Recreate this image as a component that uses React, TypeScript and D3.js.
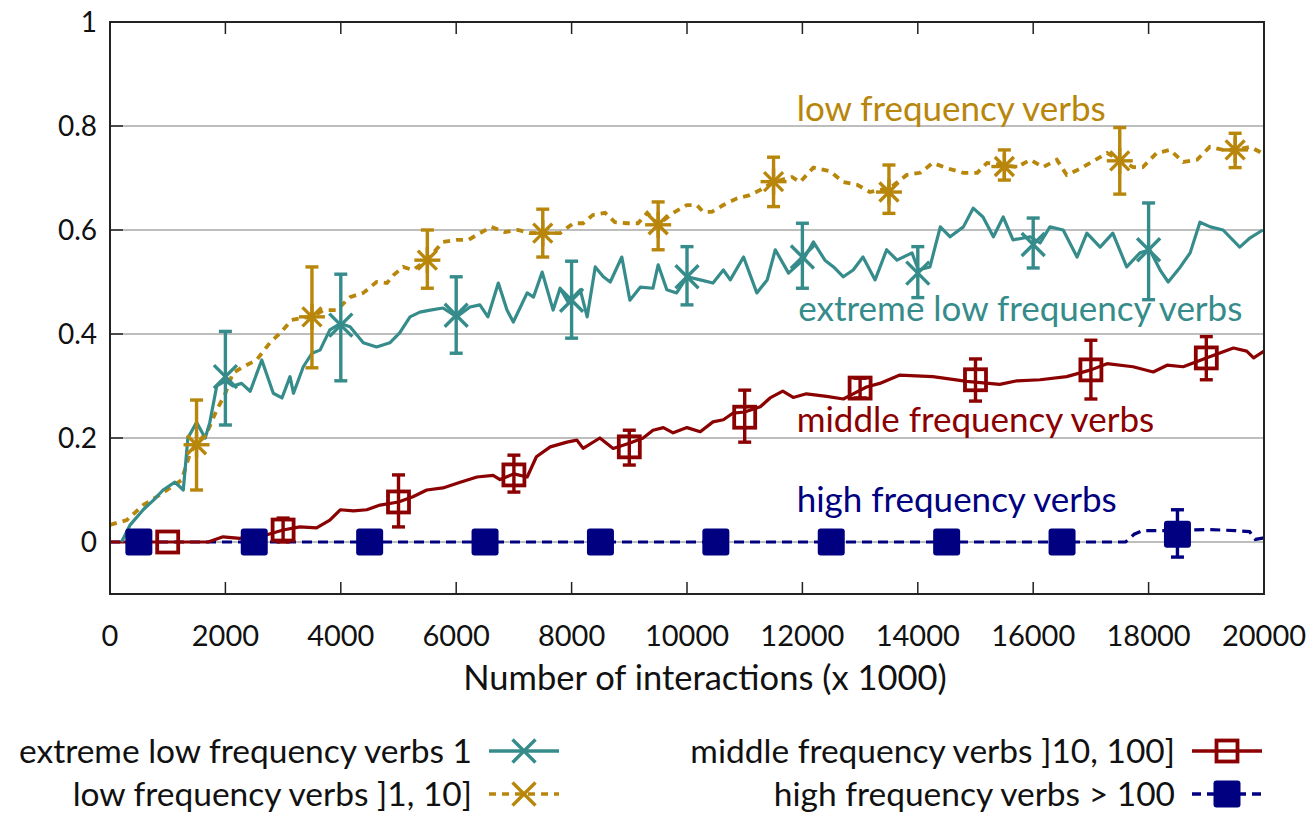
import * as d3 from 'd3';

// x = interactions (x1000), y = value
const extremeLowLine: [number, number][] = [
  [200, 0], [350, 0.033], [575, 0.062], [750, 0.08], [920, 0.1], [1125, 0.115], [1270, 0.1],
  [1350, 0.2], [1500, 0.23], [1650, 0.2], [1730, 0.23], [1850, 0.3], [2000, 0.31], [2130, 0.3],
  [2280, 0.305], [2430, 0.29], [2630, 0.35], [2830, 0.286], [2980, 0.277], [3120, 0.318],
  [3180, 0.286], [3350, 0.337], [3500, 0.363], [3640, 0.369], [3810, 0.408], [3990, 0.42],
  [4160, 0.414], [4390, 0.383], [4620, 0.375], [4850, 0.383], [5020, 0.402], [5200, 0.433],
  [5370, 0.442], [5550, 0.446], [5770, 0.45], [6010, 0.433], [6240, 0.452], [6410, 0.456],
  [6550, 0.433], [6730, 0.498], [6880, 0.446], [6990, 0.423], [7230, 0.479], [7340, 0.471],
  [7490, 0.519], [7680, 0.446], [7800, 0.488], [7940, 0.461], [8150, 0.485], [8270, 0.433],
  [8410, 0.529], [8550, 0.51], [8670, 0.5], [8870, 0.548], [9010, 0.465], [9190, 0.49],
  [9410, 0.488], [9500, 0.533], [9650, 0.485], [9820, 0.479], [10000, 0.51], [10230, 0.504],
  [10450, 0.498], [10630, 0.523], [10750, 0.504], [10980, 0.548], [11210, 0.479], [11390, 0.504],
  [11530, 0.562], [11760, 0.517], [12010, 0.542], [12190, 0.577], [12390, 0.542], [12540, 0.529],
  [12710, 0.51], [12880, 0.523], [13050, 0.548], [13260, 0.504], [13460, 0.562], [13640, 0.542],
  [13900, 0.556], [14010, 0.523], [14210, 0.529], [14390, 0.606], [14560, 0.587], [14790, 0.606],
  [14960, 0.642], [15130, 0.625], [15310, 0.587], [15480, 0.625], [15650, 0.581], [15950, 0.587],
  [16120, 0.575], [16290, 0.606], [16520, 0.6], [16760, 0.548], [16930, 0.594], [17160, 0.567],
  [17380, 0.594], [17620, 0.529], [17850, 0.556], [18020, 0.562], [18200, 0.523], [18340, 0.5],
  [18550, 0.529], [18720, 0.556], [18890, 0.615], [19070, 0.606], [19290, 0.6], [19580, 0.567],
  [19760, 0.585], [19980, 0.6],
];

const lowLine: [number, number][] = [
  [0, 0.033], [290, 0.042], [575, 0.071], [810, 0.087], [1040, 0.104], [1240, 0.119], [1390, 0.171],
  [1500, 0.19], [1680, 0.21], [1850, 0.254], [2000, 0.286], [2130, 0.325], [2310, 0.337],
  [2540, 0.35], [2770, 0.383], [2950, 0.402], [3150, 0.427], [3350, 0.431], [3500, 0.433],
  [3700, 0.446], [3930, 0.446], [4160, 0.471], [4390, 0.479], [4620, 0.5], [4800, 0.498],
  [4910, 0.513], [5080, 0.529], [5250, 0.523], [5490, 0.542], [5770, 0.577], [6010, 0.581],
  [6210, 0.581], [6410, 0.594], [6610, 0.606], [6840, 0.596], [7070, 0.6], [7280, 0.594],
  [7500, 0.594], [7800, 0.594], [8030, 0.613], [8200, 0.613], [8370, 0.629], [8580, 0.633],
  [8750, 0.615], [8960, 0.613], [9150, 0.613], [9310, 0.633], [9500, 0.61], [9760, 0.633],
  [10000, 0.648], [10170, 0.648], [10280, 0.635], [10430, 0.635], [10630, 0.648], [10870, 0.661],
  [11090, 0.667], [11270, 0.677], [11490, 0.692], [11820, 0.702], [11960, 0.692], [12190, 0.72],
  [12480, 0.713], [12710, 0.692], [12950, 0.687], [13170, 0.673], [13520, 0.681], [13810, 0.706],
  [14040, 0.71], [14260, 0.729], [14500, 0.719], [14790, 0.71], [15030, 0.71], [15200, 0.729],
  [15480, 0.725], [15720, 0.721], [15950, 0.735], [16170, 0.721], [16410, 0.735], [16580, 0.706],
  [16760, 0.715], [16990, 0.729], [17280, 0.748], [17500, 0.735], [17730, 0.721], [17900, 0.721],
  [18140, 0.748], [18370, 0.754], [18600, 0.731], [18840, 0.735], [19060, 0.76], [19290, 0.754],
  [19530, 0.754], [19760, 0.76], [19930, 0.75], [20000, 0.745],
];

const middleLine: [number, number][] = [
  [0, 0], [1700, 0], [1960, 0.01], [2250, 0.007], [2540, 0.014], [2720, 0.014], [3000, 0.023],
  [3290, 0.029], [3580, 0.027], [3810, 0.042], [3990, 0.062], [4220, 0.06], [4450, 0.062],
  [4680, 0.071], [5000, 0.077], [5250, 0.087], [5490, 0.1], [5770, 0.104], [6070, 0.115],
  [6360, 0.125], [6640, 0.128], [6760, 0.12], [7000, 0.131], [7230, 0.125], [7390, 0.164],
  [7630, 0.183], [7920, 0.192], [8090, 0.196], [8200, 0.18], [8490, 0.2], [8720, 0.18],
  [9000, 0.19], [9240, 0.2], [9410, 0.215], [9590, 0.22], [9760, 0.21], [10000, 0.22],
  [10230, 0.212], [10450, 0.231], [10630, 0.235], [10800, 0.248], [11000, 0.25], [11270, 0.26],
  [11440, 0.277], [11660, 0.29], [11840, 0.278], [12070, 0.285], [12420, 0.28], [12710, 0.275],
  [12880, 0.285], [13110, 0.298], [13340, 0.305], [13690, 0.321], [14260, 0.318], [14850, 0.309],
  [15420, 0.303], [15720, 0.31], [16120, 0.312], [16580, 0.318], [17000, 0.331], [17280, 0.343],
  [17730, 0.337], [18080, 0.327], [18320, 0.34], [18600, 0.337], [19000, 0.354], [19470, 0.373],
  [19700, 0.367], [19820, 0.354], [20000, 0.367],
];

const highLine: [number, number][] = [
  [0, 0], [17600, 0], [17750, 0.015], [17900, 0.022], [18500, 0.022], [19000, 0.024],
  [19500, 0.022], [19750, 0.02], [19850, 0.005], [20000, 0.008],
];

// [x, value, low, high]
const extremeLowMarks = [
  [2000, 0.318, 0.225, 0.405], [4000, 0.417, 0.31, 0.515], [6000, 0.436, 0.363, 0.51],
  [8000, 0.465, 0.392, 0.54], [10000, 0.51, 0.456, 0.568], [12000, 0.548, 0.488, 0.613],
  [14000, 0.517, 0.47, 0.568], [16000, 0.572, 0.527, 0.623], [18000, 0.562, 0.466, 0.652],
];
const lowMarks = [
  [1500, 0.187, 0.1, 0.273], [3500, 0.433, 0.335, 0.529], [5500, 0.542, 0.488, 0.6],
  [7500, 0.594, 0.548, 0.64], [9500, 0.61, 0.562, 0.654], [11500, 0.693, 0.645, 0.74],
  [13500, 0.673, 0.632, 0.725], [15500, 0.722, 0.696, 0.754], [17500, 0.733, 0.669, 0.797],
  [19500, 0.754, 0.72, 0.786],
];
const middleMarks = [
  [1000, 0, 0, 0], [3000, 0.023, 0, 0.046], [5000, 0.077, 0.029, 0.129], [7000, 0.129, 0.096, 0.167],
  [9000, 0.183, 0.148, 0.215], [11000, 0.24, 0.192, 0.292], [13000, 0.296, 0.277, 0.315],
  [15000, 0.312, 0.271, 0.352], [17000, 0.331, 0.275, 0.388], [19000, 0.354, 0.312, 0.395],
];
const highMarks = [
  [500, 0, 0, 0], [2500, 0, 0, 0], [4500, 0, 0, 0], [6500, 0, 0, 0], [8500, 0, 0, 0],
  [10500, 0, 0, 0], [12500, 0, 0, 0], [14500, 0, 0, 0], [16500, 0, 0, 0], [18500, 0.015, -0.029, 0.062],
];

const xTicks = [0, 2000, 4000, 6000, 8000, 10000, 12000, 14000, 16000, 18000, 20000];
const yTicks = [0, 0.2, 0.4, 0.6, 0.8, 1];
const yTickLabels = ['0', '0.2', '0.4', '0.6', '0.8', '1'];

const TEAL = '#368b8b';
const GOLD = '#b8860b';
const RED = '#8b0000';
const NAVY = '#000080';
const FONT = 'Lato, sans-serif';

const x = d3.scaleLinear().domain([0, 20000]).range([110, 1264]);
const y = d3.scaleLinear().domain([-0.1, 1]).range([594, 22]);
const line = d3.line<[number, number]>().x(d => x(d[0])).y(d => y(d[1]));

function ErrorBar({ d, color }: { d: number[]; color: string }) {
  if (d[2] === d[3]) return null;
  const cx = x(d[0]);
  return (
    <g stroke={color} strokeWidth={3.4}>
      <line x1={cx} x2={cx} y1={y(d[2])} y2={y(d[3])} />
      <line x1={cx - 6.5} x2={cx + 6.5} y1={y(d[2])} y2={y(d[2])} />
      <line x1={cx - 6.5} x2={cx + 6.5} y1={y(d[3])} y2={y(d[3])} />
    </g>
  );
}

const cross = (cx: number, cy: number, c: string, r = 11.5) => (
  <g stroke={c} strokeWidth={3.4}>
    <line x1={cx - r} y1={cy - r} x2={cx + r} y2={cy + r} />
    <line x1={cx - r} y1={cy + r} x2={cx + r} y2={cy - r} />
  </g>
);
const star = (cx: number, cy: number, c: string) => (
  <g stroke={c} strokeWidth={3.4}>
    {cross(cx, cy, c, 9.5)}
    <line x1={cx - 13} y1={cy} x2={cx + 13} y2={cy} />
    <line x1={cx} y1={cy - 13} x2={cx} y2={cy + 13} />
  </g>
);
const openSq = (cx: number, cy: number, c: string) => (
  <rect x={cx - 10.5} y={cy - 10.5} width={21} height={21} fill="none" stroke={c} strokeWidth={3.8} />
);
const fillSq = (cx: number, cy: number, c: string) => (
  <rect x={cx - 13.5} y={cy - 13.5} width={27} height={27} rx={3} fill={c} />
);

const legend = [
  { label: 'extreme low frequency verbs 1', color: TEAL, dash: undefined, mark: cross, lx: 472, ly: 763 },
  { label: 'low frequency verbs ]1, 10]', color: GOLD, dash: '7 6', mark: cross, lx: 472, ly: 806 },
  { label: 'middle frequency verbs ]10, 100]', color: RED, dash: undefined, mark: openSq, lx: 1175, ly: 763 },
  { label: 'high frequency verbs > 100', color: NAVY, dash: '9 6', mark: fillSq, lx: 1175, ly: 806 },
];

export default function App() {
  return (
    <svg width={1314} height={817} style={{ position: 'absolute', left: 0, top: 0, background: '#fff' }}
      fontFamily={FONT}>
      {/* grid */}
      {yTicks.slice(0, -1).map(t => (
        <line key={t} x1={110} x2={1264} y1={y(t)} y2={y(t)} stroke="#a8a8a8" strokeWidth={1.5} />
      ))}
      {/* ticks */}
      {xTicks.slice(1, -1).map(t => (
        <g key={t} stroke="#222" strokeWidth={1.5}>
          <line x1={x(t)} x2={x(t)} y1={22} y2={34} />
          <line x1={x(t)} x2={x(t)} y1={594} y2={582} />
        </g>
      ))}
      {yTicks.slice(0, -1).map(t => (
        <line key={t} x1={110} x2={123} y1={y(t)} y2={y(t)} stroke="#222" strokeWidth={1.5} />
      ))}
      {/* tick labels */}
      {xTicks.map(t => (
        <text key={t} x={x(t)} y={646} textAnchor="middle" fontSize={29} fill="#111">{t}</text>
      ))}
      {yTicks.map((t, i) => (
        <text key={t} x={97} y={y(t) + 10} textAnchor="end" fontSize={28} fill="#111">{yTickLabels[i]}</text>
      ))}
      <text x={705} y={690} textAnchor="middle" fontSize={34.5} fill="#111">Number of interactions (x 1000)</text>

      {/* series lines */}
      <path d={line(highLine) || ''} fill="none" stroke={NAVY} strokeWidth={3.2} strokeDasharray="10 6" />
      <path d={line(middleLine) || ''} fill="none" stroke={RED} strokeWidth={3.2} strokeLinejoin="round" />
      <path d={line(lowLine) || ''} fill="none" stroke={GOLD} strokeWidth={3.8} strokeDasharray="7 6" />
      <path d={line(extremeLowLine) || ''} fill="none" stroke={TEAL} strokeWidth={3.2} strokeLinejoin="round" />

      {/* markers + error bars */}
      {highMarks.map(d => (
        <g key={'h' + d[0]}><ErrorBar d={d} color={NAVY} />{fillSq(x(d[0]), y(d[1]), NAVY)}</g>
      ))}
      {middleMarks.map(d => (
        <g key={'m' + d[0]}><ErrorBar d={d} color={RED} />{openSq(x(d[0]), y(d[1]), RED)}</g>
      ))}
      {lowMarks.map(d => (
        <g key={'l' + d[0]}><ErrorBar d={d} color={GOLD} />{star(x(d[0]), y(d[1]), GOLD)}</g>
      ))}
      {extremeLowMarks.map(d => (
        <g key={'e' + d[0]}><ErrorBar d={d} color={TEAL} />{cross(x(d[0]), y(d[1]), TEAL)}</g>
      ))}

      {/* in-plot labels */}
      <text x={x(11900)} y={y(0.81)} fontSize={35} fill={GOLD}>low frequency verbs</text>
      <text x={x(11930)} y={y(0.425)} fontSize={35} fill={TEAL}>extreme low frequency verbs</text>
      <text x={x(11900)} y={y(0.211)} fontSize={35} fill={RED}>middle frequency verbs</text>
      <text x={x(11900)} y={y(0.058)} fontSize={35} fill={NAVY}>high frequency verbs</text>

      {/* frame */}
      <rect x={110} y={22} width={1154} height={572} fill="none" stroke="#222" strokeWidth={2} />

      {/* legend */}
      {legend.map(l => (
        <g key={l.label}>
          <text x={l.lx} y={l.ly} textAnchor="end" fontSize={33.5} fill="#111">{l.label}</text>
          <line x1={l.lx + 17} x2={l.lx + 87} y1={l.ly - 12} y2={l.ly - 12} stroke={l.color} strokeWidth={3.4}
            strokeDasharray={l.dash} />
          {l.mark(l.lx + 52, l.ly - 12, l.color)}
        </g>
      ))}
    </svg>
  );
}
